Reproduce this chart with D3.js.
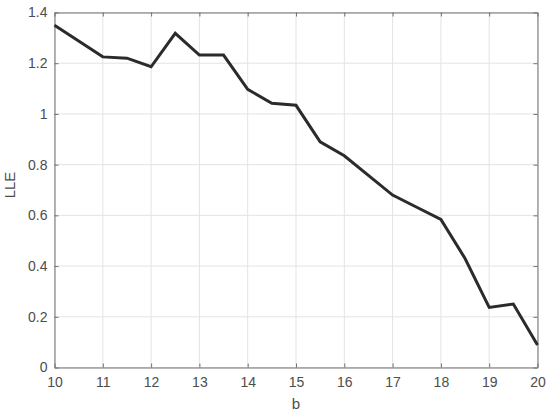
<!DOCTYPE html>
<html>
<head>
<meta charset="utf-8">
<script src="https://cdn.jsdelivr.net/npm/d3@7"></script>
<style>
  body { margin: 0; background: #fff; }
  svg text { font-family: "Liberation Sans", Arial, sans-serif; fill: #4d4d4d; }
</style>
</head>
<body>
<div id="chart"></div>
<script>
// b values and LLE
const bValues = [10, 11, 11.5, 12, 12.5, 13, 13.5, 14, 14.5, 15, 15.5, 16, 17, 17.5, 18, 18.5, 19, 19.5, 20];
const lleValues = [1.35, 1.225, 1.22, 1.186, 1.318, 1.232, 1.232, 1.097, 1.042, 1.034, 0.89, 0.835, 0.68, 0.632, 0.584, 0.43, 0.237, 0.25, 0.089];
const xTicks = [10, 11, 12, 13, 14, 15, 16, 17, 18, 19, 20];
const yTicks = [0, 0.2, 0.4, 0.6, 0.8, 1, 1.2, 1.4];

const W = 550, H = 413;
const m = { left: 54.5, right: 12.5, top: 12.5, bottom: 45.5 };

const svg = d3.select('#chart').append('svg').attr('width', W).attr('height', H);

const x = d3.scaleLinear().domain([10, 20]).range([m.left, W - m.right]);
const y = d3.scaleLinear().domain([0, 1.4]).range([H - m.bottom, m.top]);

/* --- grid --- */
const grid = svg.append('g').attr('stroke', '#e3e3e3').attr('stroke-width', 1);
grid.selectAll('line.gx').data(xTicks).join('line').attr('class', 'gx')
  .attr('x1', d => x(d)).attr('x2', d => x(d)).attr('y1', m.top).attr('y2', H - m.bottom);
grid.selectAll('line.gy').data(yTicks).join('line').attr('class', 'gy')
  .attr('y1', d => y(d)).attr('y2', d => y(d)).attr('x1', m.left).attr('x2', W - m.right);

/* --- axes (MATLAB box style: inward ticks on all sides) --- */
const tk = 4;
const styleAxis = g => {
  g.select('.domain').attr('stroke', '#707070');
  g.selectAll('.tick line').attr('stroke', '#707070');
  g.selectAll('.tick text').style('font-size', '14px');
};
svg.append('g').attr('transform', `translate(0,${H - m.bottom})`)
  .call(d3.axisBottom(x).tickValues(xTicks).tickSize(-tk).tickSizeOuter(0).tickPadding(10).tickFormat(d3.format('d')))
  .call(styleAxis);
svg.append('g').attr('transform', `translate(0,${m.top})`)
  .call(d3.axisTop(x).tickValues(xTicks).tickSize(-tk).tickSizeOuter(0).tickFormat(''))
  .call(styleAxis);
svg.append('g').attr('transform', `translate(${m.left},0)`)
  .call(d3.axisLeft(y).tickValues(yTicks).tickSize(-tk).tickSizeOuter(0).tickPadding(7).tickFormat(d => d3.format('~g')(d)))
  .call(styleAxis);
svg.append('g').attr('transform', `translate(${W - m.right},0)`)
  .call(d3.axisRight(y).tickValues(yTicks).tickSize(-tk).tickSizeOuter(0).tickFormat(''))
  .call(styleAxis);

/* --- line --- */
const pts = bValues.map((b, i) => [b, lleValues[i]]);
svg.append('path').datum(pts)
  .attr('fill', 'none').attr('stroke', '#2b2b2b').attr('stroke-width', 3)
  .attr('stroke-linejoin', 'miter')
  .attr('d', d3.line().x(d => x(d[0])).y(d => y(d[1])));

/* --- axis labels --- */
svg.append('text').attr('x', (m.left + W - m.right) / 2).attr('y', 409)
  .attr('text-anchor', 'middle').style('font-size', '15px').text('b');
svg.append('text').attr('transform', `translate(15,185) rotate(-90)`)
  .attr('text-anchor', 'middle').style('font-size', '15px').text('LLE');
</script>
</body>
</html>
